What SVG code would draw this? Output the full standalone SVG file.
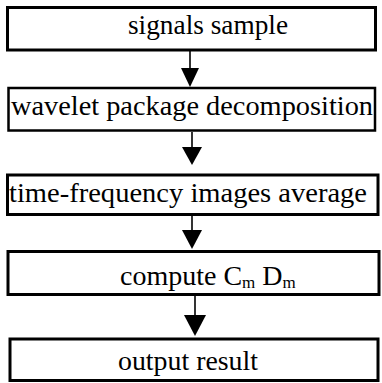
<svg xmlns="http://www.w3.org/2000/svg" width="382" height="383" viewBox="0 0 382 383">
<style>
.box{fill:#fff;stroke:#000;stroke-width:3}
.t{font-family:"Liberation Serif","Times New Roman",serif;font-size:28px;fill:#000}
.sub{font-size:17px}
.ln{stroke:#000;stroke-width:1.6;fill:none}
.hd{fill:#000}
</style>
<rect width="382" height="383" fill="#fff"/>
<g id="connectors">
<line class="ln" x1="190" y1="51" x2="190" y2="69"/>
<polygon class="hd" points="181,68 199,68 190,87"/>
<line class="ln" x1="192" y1="132" x2="192" y2="148"/>
<polygon class="hd" points="182,147 202,147 192,165"/>
<line class="ln" x1="192" y1="216" x2="192" y2="231"/>
<polygon class="hd" points="182,230 202,230 192,249"/>
<line class="ln" x1="195" y1="296" x2="195" y2="316"/>
<polygon class="hd" points="184,315 206,315 195,336"/>
</g>
<g id="n1">
<rect class="box" x="7.5" y="7.5" width="368" height="42.5"/>
<text class="t" x="128" y="34" textLength="160" lengthAdjust="spacingAndGlyphs">signals sample</text>
</g>
<g id="n2">
<rect class="box" x="8.5" y="88" width="366.5" height="42.5" style="stroke-width:2.5"/>
<text class="t" x="11" y="115" textLength="362" lengthAdjust="spacingAndGlyphs">wavelet package decomposition</text>
</g>
<g id="n3">
<rect class="box" x="7.5" y="175" width="370.5" height="39.5"/>
<text class="t" x="9" y="202" textLength="358" lengthAdjust="spacingAndGlyphs">time-frequency images average</text>
</g>
<g id="n4">
<rect class="box" x="8" y="251.5" width="371" height="43"/>
<text class="t" x="120" y="285">compute C<tspan class="sub" dy="3">m</tspan><tspan dy="-3"> D</tspan><tspan class="sub" dy="3">m</tspan></text>
</g>
<g id="n5">
<rect class="box" x="10" y="339" width="368" height="41.5"/>
<text class="t" x="118" y="370" textLength="140" lengthAdjust="spacingAndGlyphs">output result</text>
</g>
</svg>
